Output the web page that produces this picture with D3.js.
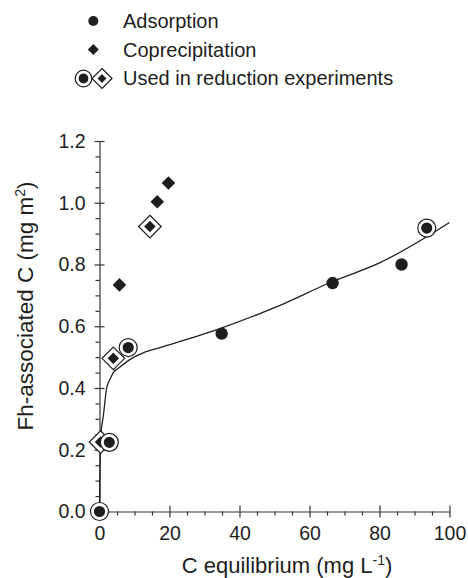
<!DOCTYPE html>
<html>
<head>
<meta charset="utf-8">
<script src="https://cdn.jsdelivr.net/npm/d3@7"></script>
<style>
  body { margin: 0; background: #fff; }
  svg { font-family: "Liberation Sans", Arial, sans-serif; }
</style>
</head>
<body>
<div id="chart"></div>
<script>
// Adsorption series
const adsX = [0, 2.8, 8.2, 34.9, 66.6, 86.3, 93.5];
const adsY = [0, 0.224, 0.531, 0.576, 0.740, 0.800, 0.918];
const adsUsed = [true, true, true, false, false, false, true];

// Coprecipitation series
const copX = [0.3, 3.95, 5.7, 14.4, 16.5, 19.7];
const copY = [0.225, 0.496, 0.734, 0.923, 1.003, 1.064];
const copUsed = [true, true, false, true, false, false];

// fitted curve
const fitX = [0, 0.1, 0.35, 1.1, 2.05, 3, 3.95, 5.4, 9.2, 12.5, 17.3, 35, 50, 66.6, 80, 93.5, 100];
const fitY = [0, 0.1, 0.245, 0.31, 0.4, 0.428, 0.45, 0.464, 0.496, 0.514, 0.531, 0.595, 0.66, 0.745, 0.805, 0.89, 0.936];

const xTicks = [0, 20, 40, 60, 80, 100];
const yTicks = [0, 0.2, 0.4, 0.6, 0.8, 1.0, 1.2];
const legendLabels = ['Adsorption', 'Coprecipitation', 'Used in reduction experiments'];

const width = 468, height = 578;
const ink = '#1e1e1e';

const svg = d3.select('#chart').append('svg')
  .attr('width', width)
  .attr('height', height);

const x = d3.scaleLinear().domain([0, 100]).range([99.5, 449.5]);
const y = d3.scaleLinear().domain([0, 1.2]).range([511.5, 141]);

// Axes
const xMinor = d3.range(0, 101, 5).filter(v => v % 20 !== 0);
const yMinor = d3.range(0, 1.21, 0.05).filter(v => Math.abs(v * 5 - Math.round(v * 5)) > 0.01);

const gx = svg.append('g').attr('transform', `translate(0,${y(0)})`);
gx.call(d3.axisBottom(x).tickValues(xTicks).tickSize(6).tickSizeOuter(0).tickPadding(9).tickFormat(d3.format('d')));
gx.append('g').call(d3.axisBottom(x).tickValues(xMinor).tickSize(4).tickSizeOuter(0).tickFormat(''))
  .select('.domain').remove();
gx.selectAll('.tick').filter(d => xTicks.includes(d)).append('line')
  .attr('y2', -6).attr('stroke', 'currentColor');

const gy = svg.append('g').attr('transform', `translate(${x(0)},0)`);
gy.call(d3.axisLeft(y).tickValues(yTicks).tickSize(5).tickSizeOuter(0).tickPadding(9).tickFormat(d3.format('.1f')));
gy.append('g').call(d3.axisLeft(y).tickValues(yMinor).tickSize(4).tickSizeOuter(0).tickFormat(''))
  .select('.domain').remove();
gy.selectAll('.tick').filter(d => yTicks.includes(d)).append('line')
  .attr('x2', 5).attr('stroke', 'currentColor');

svg.selectAll('.domain, .tick line').attr('stroke', '#333').attr('stroke-width', 1.2);
svg.selectAll('.tick text').attr('font-size', 19.5).attr('fill', ink);

// Axis titles
const xt = svg.append('text')
  .attr('x', 287).attr('y', 573)
  .attr('text-anchor', 'middle')
  .attr('font-size', 22).attr('fill', ink);
xt.append('tspan').text('C equilibrium (mg L');
xt.append('tspan').attr('font-size', 14).attr('dy', -8).text('-1');
xt.append('tspan').attr('dy', 8).text(')');

const yt = svg.append('text')
  .attr('transform', 'translate(33,306) rotate(-90)')
  .attr('text-anchor', 'middle')
  .attr('font-size', 22.5).attr('fill', ink);
yt.append('tspan').text('Fh-associated C (mg m');
yt.append('tspan').attr('font-size', 14).attr('dy', -8).text('2');
yt.append('tspan').attr('dy', 8).text(')');

// Fit line
const line = d3.line()
  .x((d, i) => x(fitX[i]))
  .y(d => y(d))
  .curve(d3.curveMonotoneX);

svg.append('path')
  .datum(fitY)
  .attr('d', line)
  .attr('fill', 'none')
  .attr('stroke', ink)
  .attr('stroke-width', 1.3);

// Marker helpers
function diamond(g, cx, cy, r, used) {
  const pts = s => `${cx},${cy - s} ${cx + s},${cy} ${cx},${cy + s} ${cx - s},${cy}`;
  if (used) {
    g.append('polygon').attr('points', pts(r + 4.5))
      .attr('fill', '#fff').attr('stroke', ink).attr('stroke-width', 1.2);
  }
  g.append('polygon').attr('points', pts(r))
    .attr('fill', ink).attr('stroke', used ? '#fff' : 'none').attr('stroke-width', 1.5);
}

function circle(g, cx, cy, r, used) {
  if (used) {
    g.append('circle').attr('cx', cx).attr('cy', cy).attr('r', r + 2.8)
      .attr('fill', '#fff').attr('stroke', ink).attr('stroke-width', 1.2);
  }
  g.append('circle').attr('cx', cx).attr('cy', cy).attr('r', r)
    .attr('fill', ink).attr('stroke', used ? '#fff' : 'none').attr('stroke-width', 1.2);
}

const marks = svg.append('g');
copX.forEach((v, i) => diamond(marks, x(v), y(copY[i]), 6.8, copUsed[i]));
adsX.forEach((v, i) => circle(marks, x(v), y(adsY[i]), 6.2, adsUsed[i]));

// Legend
const lg = svg.append('g');
circle(lg, 93.3, 21, 5, false);
diamond(lg, 93.3, 49.5, 5.5, false);
circle(lg, 83.5, 78.5, 5.5, true);
diamond(lg, 102, 78.5, 5.5, true);

lg.selectAll('text.lab')
  .data(legendLabels)
  .join('text')
  .attr('class', 'lab')
  .attr('x', 123)
  .attr('y', (d, i) => 28 + i * 28.7)
  .attr('font-size', 20)
  .attr('fill', ink)
  .text(d => d);
</script>
</body>
</html>
